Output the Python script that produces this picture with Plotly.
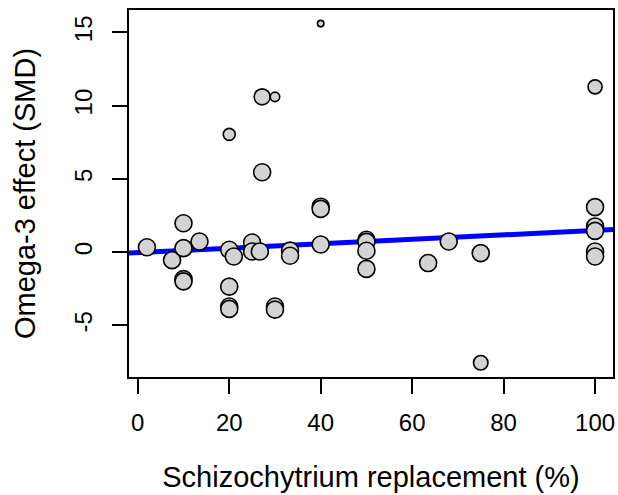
import numpy as np
import plotly.graph_objects as go

# Data
replacement = [2, 7.5, 10, 10, 10, 10, 13.5, 20, 21, 20, 20, 20, 20,
               25, 25, 26.7, 27.2, 27.2, 30, 30, 30, 33.3, 33.3,
               40, 40, 40, 40, 50, 50, 50, 50, 63.5, 68, 75, 75,
               100, 100, 100, 100, 100, 100]
smd = [0.33, -0.55, 1.97, 0.27, -1.85, -2.0, 0.72, 0.16, -0.3, -2.36, -3.72, -3.88, 8.04,
       0.65, 0.04, 0.04, 10.6, 5.45, 10.6, -3.72, -3.93, 0.1, -0.25,
       15.6, 3.1, 2.95, 0.52, 0.84, 0.7, 0.09, -1.15, -0.75, 0.72, -0.07, -7.56,
       11.28, 3.07, 1.75, 1.45, 0.04, -0.3]
weight_px = [17, 17, 17, 17, 17, 17, 17, 17, 17, 17, 17, 17, 12,
             17, 17, 17, 16, 17, 9.5, 17, 17, 17, 17,
             6.5, 17, 17, 17, 17, 17, 17, 17, 17, 17, 17, 14.5,
             14, 17, 17, 17, 17, 17]

intercept = -0.04
slope = 0.0152

x_tick_vals = [0, 20, 40, 60, 80, 100]
y_tick_vals = [-5, 0, 5, 10, 15]

xr = [-1.92, 103.92]
yr = [-8.53, 16.53]

fig = go.Figure()

line_x = np.array(xr)
line_y = intercept + slope * line_x
fig.add_trace(go.Scatter(x=line_x, y=line_y, mode="lines",
                         line=dict(color="#0000ff", width=5),
                         hoverinfo="skip", showlegend=False))

sizes = [s for s in weight_px]
fig.add_trace(go.Scatter(x=replacement, y=smd, mode="markers",
                         marker=dict(size=sizes, color="#d3d3d3", opacity=1,
                                     line=dict(color="black", width=1.6)),
                         showlegend=False))

font_family = "Liberation Sans, Arial, Helvetica, sans-serif"

fig.update_layout(
    width=618, height=495,
    margin=dict(l=129, r=5, t=10, b=118, autoexpand=False),
    paper_bgcolor="white", plot_bgcolor="white",
    font=dict(family=font_family, color="black", size=24),
    showlegend=False,
)
fig.update_xaxes(
    range=xr, tickvals=x_tick_vals, ticktext=[str(v) for v in x_tick_vals],
    showgrid=False, zeroline=False,
    showline=True, mirror=True, linecolor="black", linewidth=1.5,
    ticks="outside", ticklen=15, tickwidth=1.5, tickcolor="black",
    tickfont=dict(size=24), ticklabelstandoff=8,
    title=dict(text="Schizochytrium replacement (%)", font=dict(size=29), standoff=32),
    automargin=False,
)
fig.update_yaxes(
    range=yr, tickvals=y_tick_vals, ticktext=[str(v) for v in y_tick_vals],
    showgrid=False, zeroline=False,
    showline=True, mirror=True, linecolor="black", linewidth=1.5,
    ticks="outside", ticklen=15, tickwidth=1.5, tickcolor="black",
    tickfont=dict(size=24), tickangle=-90, ticklabelstandoff=11,
    title=dict(text="Omega-3 effect (SMD)", font=dict(size=29), standoff=26),
    automargin=False,
)

fig.write_html("out.html")
